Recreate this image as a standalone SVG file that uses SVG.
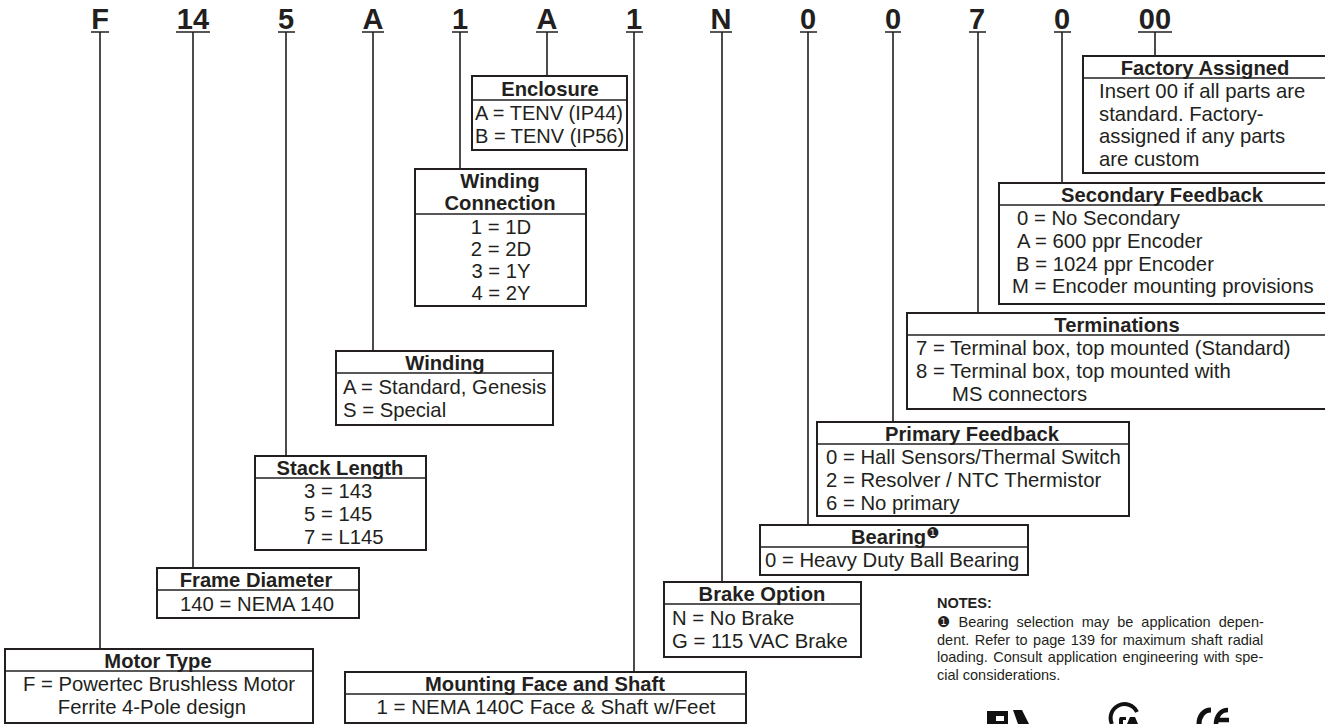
<svg xmlns="http://www.w3.org/2000/svg" width="1325" height="724" viewBox="0 0 1325 724">
<style>
text{font-family:"Liberation Sans",Arial,sans-serif;fill:#231f20}
.c{font-size:29px;font-weight:700;text-anchor:middle}
.h{font-size:20.2px;font-weight:700;text-anchor:middle}
.b{font-size:20.3px}
.m{text-anchor:middle}
.box{fill:#fff;stroke:#231f20;stroke-width:2}
.rule{stroke:#231f20;stroke-width:1.5;fill:none}
#connectors path{stroke:#231f20;stroke-width:1.6;fill:none}
.n{font-size:14.5px}
.mark{font-family:"DejaVu Sans",sans-serif}
</style>
<rect width="1325" height="724" fill="#fff"/>
<g id="connectors">
<path d="M91 32H109M100 32V649"/>
<path d="M176 32H210M193 32V568"/>
<path d="M278 32H295M286 32V456"/>
<path d="M362 32H384M373 32V351"/>
<path d="M452 32H468M460 32V169"/>
<path d="M536 32H558M547 32V76"/>
<path d="M626 32H643M634 32V672"/>
<path d="M710 32H732M722 32V582"/>
<path d="M800 32H817M808 32V525"/>
<path d="M885 32H901M893 32V422"/>
<path d="M969 32H986M978 32V313"/>
<path d="M1054 32H1071M1062 32V183"/>
<path d="M1138 32H1172M1155 32V56"/>
</g>
<g id="code">
<text class="c" x="100" y="29">F</text>
<text class="c" x="193" y="29">14</text>
<text class="c" x="286" y="29">5</text>
<text class="c" x="373" y="29">A</text>
<text class="c" x="460" y="29">1</text>
<text class="c" x="547" y="29">A</text>
<text class="c" x="634" y="29">1</text>
<text class="c" x="721" y="29">N</text>
<text class="c" x="808" y="29">0</text>
<text class="c" x="893" y="29">0</text>
<text class="c" x="977" y="29">7</text>
<text class="c" x="1062" y="29">0</text>
<text class="c" x="1155" y="29">00</text>
</g>
<g id="enclosure">
<rect class="box" x="472" y="76" width="155" height="74"/><path class="rule" d="M472 100H627"/>
<text class="h" x="550" y="96">Enclosure</text>
<text class="b" x="475" y="120" style="font-size:20px">A = TENV (IP44)</text>
<text class="b" x="475" y="143" style="font-size:20px">B = TENV (IP56)</text>
</g>
<g id="winding-connection">
<rect class="box" x="415" y="169" width="171" height="137"/><path class="rule" d="M415 214H586"/>
<text class="h" x="500" y="188">Winding</text>
<text class="h" x="500" y="210">Connection</text>
<text class="b m" x="501" y="234">1 = 1D</text>
<text class="b m" x="501" y="256">2 = 2D</text>
<text class="b m" x="501" y="278">3 = 1Y</text>
<text class="b m" x="501" y="300">4 = 2Y</text>
</g>
<g id="winding">
<rect class="box" x="336" y="351" width="217" height="74"/><path class="rule" d="M336 373H553"/>
<text class="h" x="445" y="370">Winding</text>
<text class="b" x="343" y="394">A = Standard, Genesis</text>
<text class="b" x="343" y="417">S = Special</text>
</g>
<g id="stack-length">
<rect class="box" x="255" y="456" width="171" height="94"/><path class="rule" d="M255 478H426"/>
<text class="h" x="340" y="475">Stack Length</text>
<text class="b" x="304" y="498">3 = 143</text>
<text class="b" x="304" y="521">5 = 145</text>
<text class="b" x="304" y="544">7 = L145</text>
</g>
<g id="frame-diameter">
<rect class="box" x="157" y="568" width="202" height="50"/><path class="rule" d="M157 590H359"/>
<text class="h" x="256" y="587">Frame Diameter</text>
<text class="b m" x="257" y="611">140 = NEMA 140</text>
</g>
<g id="motor-type">
<rect class="box" x="5" y="649" width="308" height="74"/><path class="rule" d="M5 671H313"/>
<text class="h" x="158" y="668">Motor Type</text>
<text class="b m" x="159" y="691">F = Powertec Brushless Motor</text>
<text class="b m" x="152" y="714">Ferrite 4-Pole design</text>
</g>
<g id="mounting">
<rect class="box" x="345" y="672" width="401" height="51"/><path class="rule" d="M345 694H746"/>
<text class="h" x="545" y="691">Mounting Face and Shaft</text>
<text class="b m" x="546" y="714" style="font-size:20.5px">1 = NEMA 140C Face &amp; Shaft w/Feet</text>
</g>
<g id="brake-option">
<rect class="box" x="664" y="582" width="197" height="75"/><path class="rule" d="M664 604H861"/>
<text class="h" x="762" y="601">Brake Option</text>
<text class="b" x="672" y="625">N = No Brake</text>
<text class="b" x="672" y="648">G = 115 VAC Brake</text>
</g>
<g id="bearing">
<rect class="box" x="760" y="525" width="268" height="50"/><path class="rule" d="M760 547H1028"/>
<text class="h" x="851" y="544" style="text-anchor:start">Bearing<tspan class="mark" font-size="15" font-weight="400" dy="-6">❶</tspan></text>
<text class="b" x="765" y="567">0 = Heavy Duty Ball Bearing</text>
</g>
<g id="primary-feedback">
<rect class="box" x="817" y="422" width="312" height="94"/><path class="rule" d="M817 444H1129"/>
<text class="h" x="972" y="441">Primary Feedback</text>
<text class="b" x="826" y="464">0 = Hall Sensors/Thermal Switch</text>
<text class="b" x="826" y="487">2 = Resolver / NTC Thermistor</text>
<text class="b" x="826" y="510">6 = No primary</text>
</g>
<g id="terminations">
<rect class="box" x="907" y="313" width="430" height="96"/><path class="rule" d="M907 335H1337"/>
<text class="h" x="1117" y="332">Terminations</text>
<text class="b" x="916" y="355">7 = Terminal box, top mounted (Standard)</text>
<text class="b" x="916" y="378">8 = Terminal box, top mounted with</text>
<text class="b" x="952" y="401">MS connectors</text>
</g>
<g id="secondary-feedback">
<rect class="box" x="999" y="183" width="340" height="121"/><path class="rule" d="M999 205H1339"/>
<text class="h" x="1162" y="202">Secondary Feedback</text>
<text class="b" x="1017" y="225">0 = No Secondary</text>
<text class="b" x="1017" y="248">A = 600 ppr Encoder</text>
<text class="b" x="1016" y="271">B = 1024 ppr Encoder</text>
<text class="b" x="1012" y="293">M = Encoder mounting provisions</text>
</g>
<g id="factory-assigned">
<rect class="box" x="1083" y="56" width="256" height="117"/><path class="rule" d="M1083 78H1339"/>
<text class="h" x="1205" y="75">Factory Assigned</text>
<text class="b" x="1099" y="98">Insert 00 if all parts are</text>
<text class="b" x="1099" y="121">standard. Factory-</text>
<text class="b" x="1099" y="143">assigned if any parts</text>
<text class="b" x="1099" y="166">are custom</text>
</g>
<g id="notes">
<text class="n" x="937" y="608" font-weight="700">NOTES:</text>
<text class="n" x="937" y="627" word-spacing="4"><tspan class="mark" font-size="15">❶</tspan> Bearing selection may be application depen-</text>
<text class="n" x="937" y="645" word-spacing="1.4">dent. Refer to page 139 for maximum shaft radial</text>
<text class="n" x="937" y="662" word-spacing="1.4">loading. Consult application engineering with spe-</text>
<text class="n" x="937" y="680">cial considerations.</text>
</g>
<g id="logos" fill="#111">
<path d="M987 711H1008V724H987ZM996 716V721H1004V716ZM1013 710H1022L1029 724H1018Z"/>
<path d="M1137 712A13 13 0 1 0 1112 724" fill="none" stroke="#111" stroke-width="4"/>
<path d="M1120 717H1126V720H1123V724H1119V719ZM1130 717H1135L1138 724H1127Z"/>
<path d="M1211 710C1203 710 1199 717 1199 724" fill="none" stroke="#111" stroke-width="5"/>
<path d="M1228 710C1220 710 1216 717 1216 724M1218 720H1229" fill="none" stroke="#111" stroke-width="4.5"/>
</g>
</svg>
